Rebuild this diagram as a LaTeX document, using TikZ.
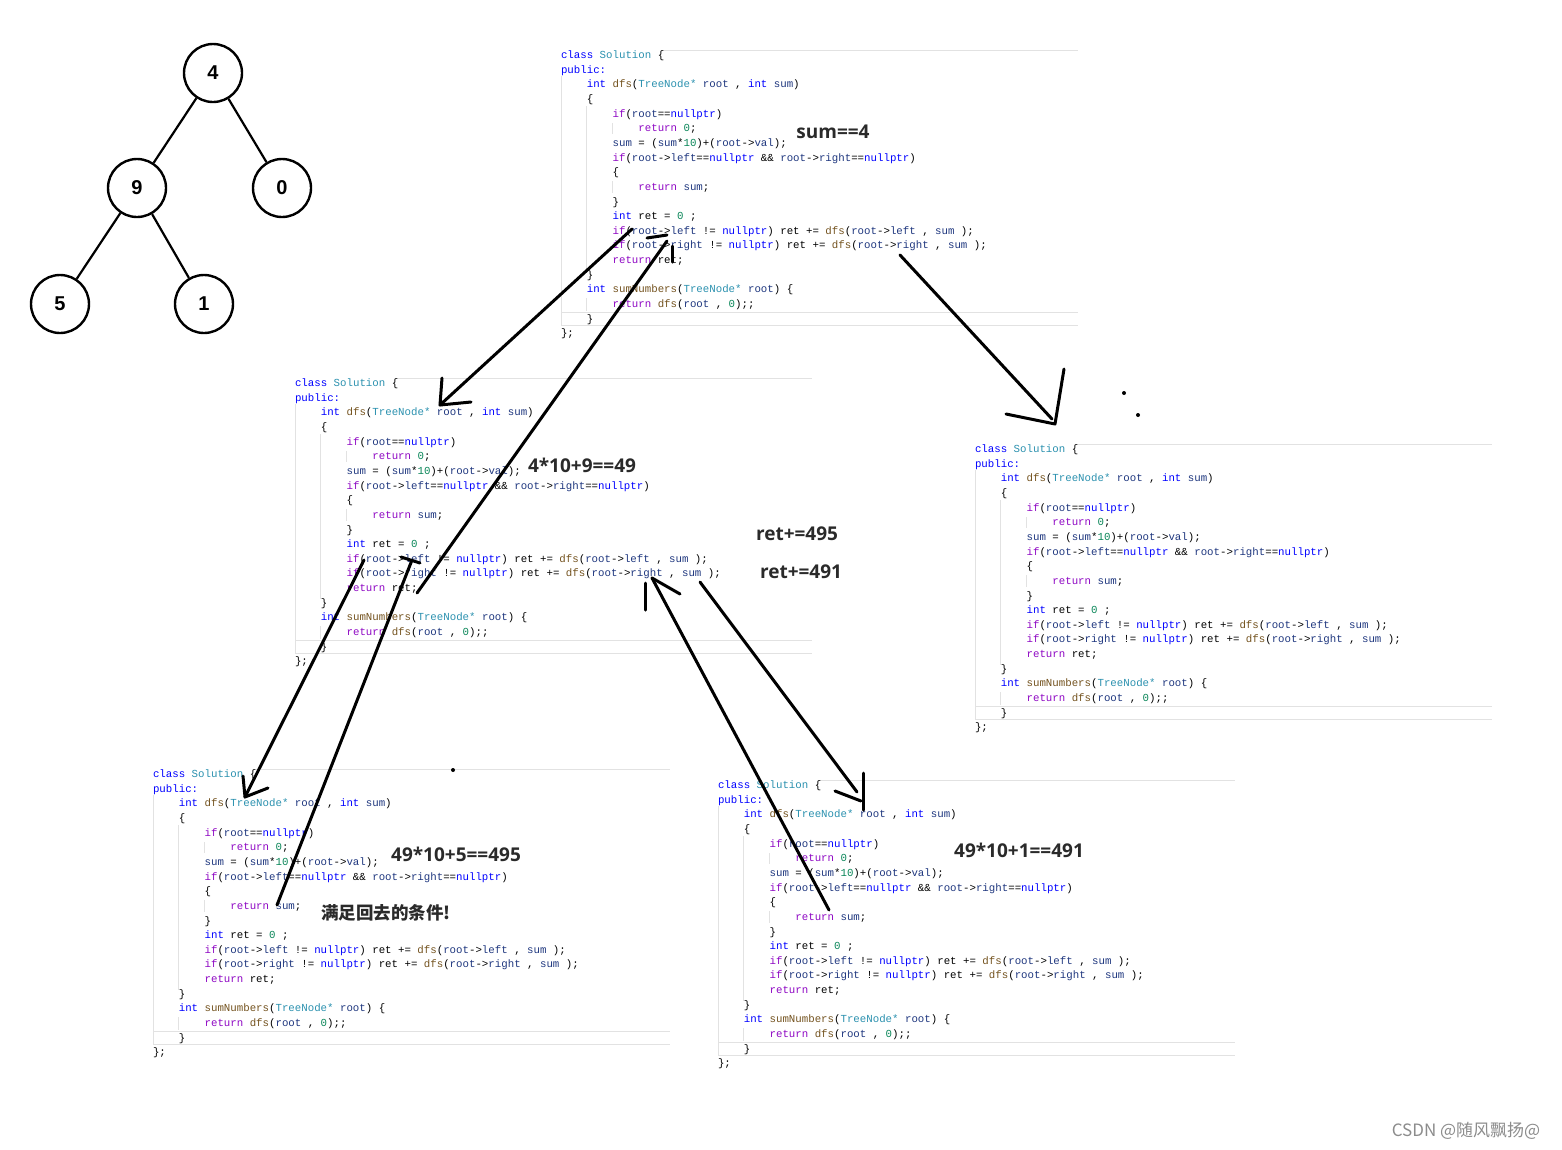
\documentclass[tikz,border=0pt]{standalone}
\usepackage{fontspec}
\setmainfont{Liberation Sans}
\newfontfamily\codefnt{Liberation Mono}
\newfontfamily\lblfnt{Open Sans}
\newfontfamily\cjkfnt{Noto Sans CJK SC}
\definecolor{ckw}{HTML}{0000FF}
\definecolor{cctl}{HTML}{8F08C4}
\definecolor{ctyp}{HTML}{2B91AF}
\definecolor{cfn}{HTML}{74531F}
\definecolor{cnum}{HTML}{098658}
\definecolor{cvar}{HTML}{1F377F}
\definecolor{cguide}{HTML}{E2E2E2}
\definecolor{clbl}{HTML}{2A2A2A}
\newcommand\cdK[1]{\textcolor{ckw}{#1}}
\newcommand\cdC[1]{\textcolor{cctl}{#1}}
\newcommand\cdT[1]{\textcolor{ctyp}{#1}}
\newcommand\cdF[1]{\textcolor{cfn}{#1}}
\newcommand\cdN[1]{\textcolor{cnum}{#1}}
\newcommand\cdV[1]{\textcolor{cvar}{#1}}
\tikzset{
  cl/.style={anchor=base west, inner sep=0pt, outer sep=0pt, text=black,
    font=\codefnt\fontsize{10.75}{13}\selectfont},
  guide/.style={draw=cguide, line width=0.8pt},
  pen/.style={line width=3pt, line cap=round, line join=round, draw=black},
  tnode/.style={circle, draw=black, line width=2.4pt, minimum size=58pt, inner sep=0pt,
    font=\bfseries\fontsize{20}{24}\selectfont},
  tedge/.style={line width=2.2pt},
  lbl/.style={inner sep=0pt, text=clbl, font=\lblfnt\bfseries\fontsize{19}{22}\selectfont},
  cjklbl/.style={inner sep=0pt, text=clbl, font=\cjkfnt\bfseries\fontsize{17.5}{21}\selectfont},
  wm/.style={inner sep=0pt, text=black!45, font=\cjkfnt\fontsize{17}{20}\selectfont}
}
\newcommand\codeblock[3]{%
\begin{scope}[shift={(#2,#3)}]
  \draw[guide] (100,-8.5) -- (517,-8.5);
  \draw[guide] (0,17.5) -- (0,267.5);
  \draw[guide] (25.8,47.5) -- (25.8,212.5);
  \draw[guide] (25.8,239.5) -- (25.8,252.5);
  \draw[guide] (51.6,64.5) -- (51.6,75.5);
  \draw[guide] (51.6,122.5) -- (51.6,134.5);
  \draw[guide] (0,254) -- (517,254);
  \draw[guide] (0,266.5) -- (517,266.5);
  \node[cl] (#1-0) at (0,0) {\cdK{class} \cdT{Solution} \{};
  \node[cl] (#1-1) at (0,14.65) {\cdK{public:}};
  \node[cl] (#1-2) at (25.8,29.3) {\cdK{int} \cdF{dfs}(\cdT{TreeNode*} \cdV{root} , \cdK{int} \cdV{sum})};
  \node[cl] (#1-3) at (25.8,43.95) {\{};
  \node[cl] (#1-4) at (51.6,58.6) {\cdC{if}(\cdV{root}==\cdK{nullptr})};
  \node[cl] (#1-5) at (77.4,73.25) {\cdC{return} \cdN{0};};
  \node[cl] (#1-6) at (51.6,87.9) {\cdV{sum} = (\cdV{sum}*\cdN{10})+(\cdV{root}->\cdV{val});};
  \node[cl] (#1-7) at (51.6,102.55) {\cdC{if}(\cdV{root}->\cdV{left}==\cdK{nullptr} \&\& \cdV{root}->\cdV{right}==\cdK{nullptr})};
  \node[cl] (#1-8) at (51.6,117.2) {\{};
  \node[cl] (#1-9) at (77.4,131.85) {\cdC{return} \cdV{sum};};
  \node[cl] (#1-10) at (51.6,146.5) {\}};
  \node[cl] (#1-11) at (51.6,161.15) {\cdK{int} ret = \cdN{0} ;};
  \node[cl] (#1-12) at (51.6,175.8) {\cdC{if}(\cdV{root}->\cdV{left} != \cdK{nullptr}) ret += \cdF{dfs}(\cdV{root}->\cdV{left} , \cdV{sum} );};
  \node[cl] (#1-13) at (51.6,190.45) {\cdC{if}(\cdV{root}->\cdV{right} != \cdK{nullptr}) ret += \cdF{dfs}(\cdV{root}->\cdV{right} , \cdV{sum} );};
  \node[cl] (#1-14) at (51.6,205.1) {\cdC{return} ret;};
  \node[cl] (#1-15) at (25.8,219.75) {\}};
  \node[cl] (#1-16) at (25.8,234.4) {\cdK{int} \cdF{sumNumbers}(\cdT{TreeNode*} \cdV{root}) \{};
  \node[cl] (#1-17) at (51.6,249.05) {\cdC{return} \cdF{dfs}(\cdV{root} , \cdN{0});;};
  \node[cl] (#1-18) at (25.8,263.7) {\}};
  \node[cl] (#1-19) at (0,278.35) {\};};
\end{scope}}
\begin{document}
\begin{tikzpicture}[x=1pt,y=-1pt]
\fill[white] (0,0) rectangle (1562,1149);
\useasboundingbox (0,0) rectangle (1562,1149);

% tree
\node[tnode] (t4) at (213,73) {4};
\node[tnode] (t9) at (137,188) {9};
\node[tnode] (t0) at (282,188) {0};
\node[tnode] (t5) at (60,304) {5};
\node[tnode] (t1) at (204,304) {1};
\draw[tedge] (t4) -- (t9);
\draw[tedge] (t4) -- (t0);
\draw[tedge] (t9) -- (t5);
\draw[tedge] (t9) -- (t1);

% code blocks
\codeblock{top}{561}{58.5}
\codeblock{mid}{295}{386.5}
\codeblock{rgt}{975}{452.5}
\codeblock{bl}{153}{777.5}
\codeblock{br}{718}{788.5}

% labels
\node[lbl] (l1) at (833,132) {sum==4};
\node[lbl] (l2) at (582,465) {4*10+9==49};
\node[lbl] (l3) at (797,534) {ret+=495};
\node[lbl] (l4) at (801,572) {ret+=491};
\node[lbl] (l5) at (456,854) {49*10+5==495};
\node[cjklbl] (l6) at (386,913) {满足回去的条件!};
\node[lbl] (l7) at (1019,850) {49*10+1==491};
\node[wm] (wm) at (1466,1131) {CSDN @随风飘扬@};

% dots
\fill (1124,393) circle (2);
\fill (1138,415) circle (2);
\fill (453,770) circle (2);

% arrow A: top -> mid
\coordinate (A0) at (632,229);
\coordinate (A1) at (440,405);
\draw[pen] (A0) -- (A1);
\draw[pen] (442,378) -- (A1) -- (471,402);

% arrow B: mid -> top
\coordinate (B0) at (417,593);
\coordinate (B1) at (667,241);
\draw[pen] (B0) -- (B1);
\draw[pen] (647,238) -- (667,235);
\draw[pen] (672,246) -- (672,262);

% arrow C: mid -> bottom-left
\coordinate (C0) at (364,560);
\coordinate (C1) at (245,797);
\draw[pen] (C0) -- (C1);
\draw[pen] (243,776) -- (C1) -- (268,788);

% arrow D: bottom-left -> mid
\coordinate (D0) at (277,905);
\coordinate (D1) at (412,560);
\draw[pen] (D0) -- (D1);
\draw[pen] (401,557) -- (420,563);

% arrow E: top -> right
\coordinate (E0) at (900,255);
\coordinate (E1) at (1055,424);
\draw[pen] (E0) -- (1052,419);
\draw[pen] (1064,369) -- (E1) -- (1006,414);

% arrow F: mid -> bottom-right
\coordinate (F0) at (700,582);
\coordinate (F1) at (857,792);
\draw[pen] (F0) -- (F1);
\draw[pen] (835,791) -- (861,801);
\draw[pen] (863,773) -- (863,810);

% arrow G: bottom-right -> mid
\coordinate (G0) at (829,910);
\coordinate (G1) at (652,578);
\draw[pen] (G0) -- (G1);
\draw[pen] (G1) -- (680,594);
\draw[pen] (645,583) -- (645,610);
\end{tikzpicture}
\end{document}
